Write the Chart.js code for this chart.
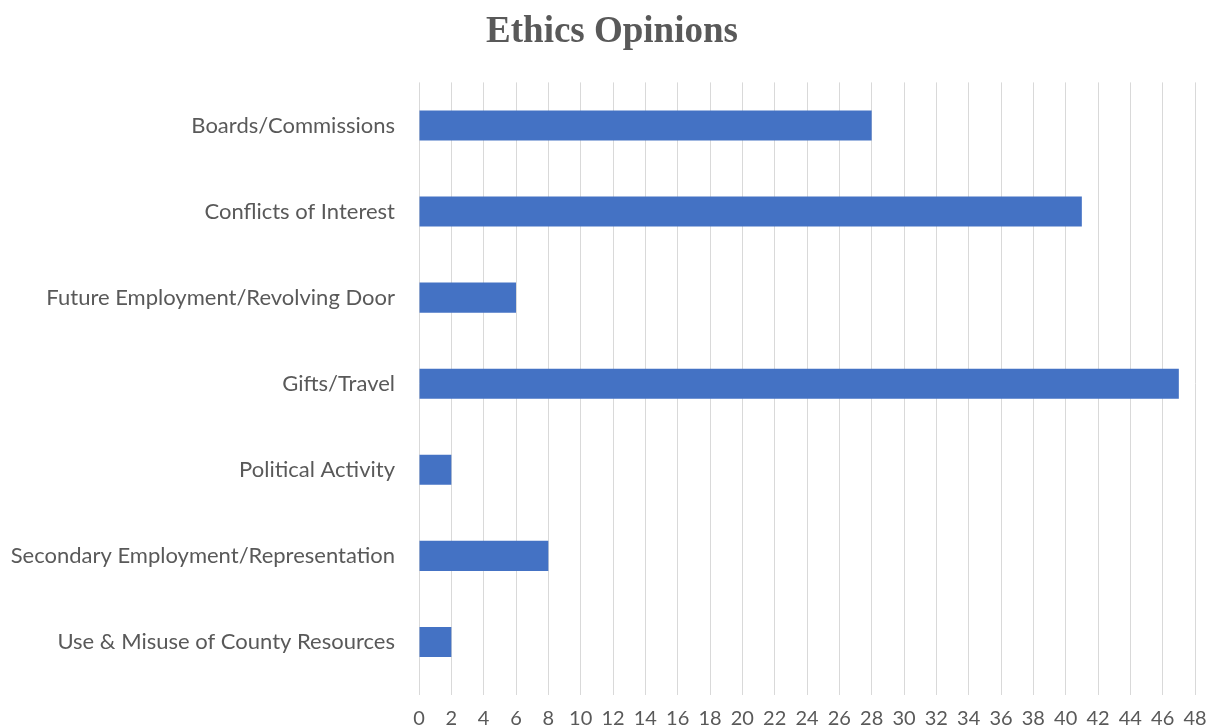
<!DOCTYPE html>
<html>
<head>
<meta charset="utf-8">
<script src="https://cdn.jsdelivr.net/npm/chart.js@4/dist/chart.umd.min.js"></script>
<style>
  html, body { margin: 0; padding: 0; background: #fff; }
  #wrap { width: 1211px; height: 725px; }
</style>
</head>
<body>
<div id="wrap"><canvas id="bar"></canvas></div>
<script>
"use strict";
// categories and counts
var categories = [
    "Boards/Commissions",
    "Conflicts of Interest",
    "Future Employment/Revolving Door",
    "Gifts/Travel",
    "Political Activity",
    "Secondary Employment/Representation",
    "Use & Misuse of County Resources"
];
var opinionCounts = [28, 41, 6, 47, 2, 8, 2];
var xMin = 0, xMax = 48, xStep = 2;

var textColor = "#595959";
var barColor = "#4472C4";
var gridColor = "#d9d9d9";

// the title in the original sits centred on the page, not on the plot
var shiftTitle = {
    id: "shiftTitle",
    afterLayout: function (chart) {
        if (chart.titleBlock) chart.titleBlock.left += 29;
    }
};

var ctx = document.getElementById("bar");
var barChart = new Chart(ctx, {
    type: "bar",
    data: {
        labels: categories,
        datasets: [{
            label: "Ethics Opinions",
            data: opinionCounts,
            backgroundColor: barColor,
            borderWidth: 0,
            barPercentage: 0.35,
            categoryPercentage: 1
        }]
    },
    options: {
        indexAxis: "y",
        responsive: true,
        maintainAspectRatio: false,
        animation: false,
        layout: { padding: { left: 0, right: 16, top: 0, bottom: 0 } },
        plugins: {
            legend: { display: false },
            tooltip: { enabled: false },
            title: {
                display: true,
                text: "Ethics Opinions",
                color: textColor,
                font: { family: "'Liberation Serif', 'DejaVu Serif', serif", size: 37, weight: "bold" },
                padding: { top: 10, bottom: 28 }
            }
        },
        scales: {
            x: {
                min: xMin,
                max: xMax,
                ticks: {
                    stepSize: xStep,
                    color: textColor,
                    font: { family: "Lato, 'Open Sans', sans-serif", size: 20 },
                    padding: 12,
                    maxRotation: 0,
                    autoSkip: false
                },
                grid: { color: gridColor, lineWidth: 1, tickLength: 10, drawTicks: true },
                border: { display: false },
                afterFit: function (scale) {
                    scale.height = 40;
                    scale.paddingRight = 0;
                }
            },
            y: {
                ticks: {
                    color: textColor,
                    font: { family: "Lato, 'Open Sans', sans-serif", size: 22 },
                    padding: 16
                },
                grid: { display: false },
                border: { display: false },
                afterFit: function (scale) { scale.width = 419; }
            }
        }
    },
    plugins: [shiftTitle]
});
</script>
</body>
</html>
